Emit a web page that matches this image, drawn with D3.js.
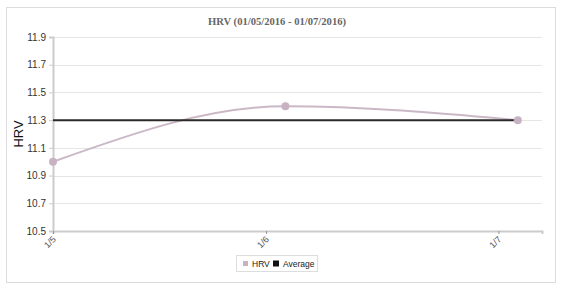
<!DOCTYPE html>
<html>
<head>
<meta charset="utf-8">
<script src="https://cdn.jsdelivr.net/npm/d3@7"></script>
<style>
  body { margin: 0; background: #fff; }
  svg text { font-family: "Liberation Sans", Arial, sans-serif; }
</style>
</head>
<body>
<div id="chart"></div>
<script>
(function(d3) {

  // Data.
  var dates = ['2016-01-05T02:00', '2016-01-06T02:00', '2016-01-07T02:00'];
  var hrvValues = [11.0, 11.4, 11.3];
  var avgValue = 11.3;
  var tickDates = ['2016-01-05T02:00', '2016-01-06T00:00', '2016-01-07T00:00'];
  var tickLabels = ['1/5', '1/6', '1/7'];
  var yTicks = [10.5, 10.7, 10.9, 11.1, 11.3, 11.5, 11.7, 11.9];

  var parse = d3.timeParse('%Y-%m-%dT%H:%M');
  var points = dates.map(function(d, i) { return { date: parse(d), value: hrvValues[i] }; });
  var ticks = tickDates.map(parse);

  var width = 562, height = 288;
  var m = { left: 53, right: 20, top: 37, bottom: 57 };

  var svg = d3.select('#chart').append('svg')
    .attr('width', width)
    .attr('height', height);

  // Outer frame.
  svg.append('rect')
    .attr('x', 6.5).attr('y', 7.5)
    .attr('width', 549).attr('height', 275)
    .attr('fill', '#fff')
    .attr('stroke', '#dcdcdc');

  var x = d3.scaleTime()
    .domain([points[0].date, d3.timeMinute.offset(points[2].date, 150)])
    .range([m.left, width - m.right]);

  var y = d3.scaleLinear()
    .domain([10.5, 11.9])
    .range([height - m.bottom, m.top]);

  // Grid.
  svg.append('g').selectAll('line')
    .data(yTicks.slice(1))
    .join('line')
    .attr('x1', m.left).attr('x2', width - m.right)
    .attr('y1', function(d) { return Math.round(y(d)) + 0.5; })
    .attr('y2', function(d) { return Math.round(y(d)) + 0.5; })
    .attr('stroke', '#e6e6e6');

  // Y axis.
  var yAxis = svg.append('g')
    .attr('transform', 'translate(' + m.left + ',0)')
    .call(d3.axisLeft(y).tickValues(yTicks).tickSize(4).tickFormat(d3.format('.1f')));
  yAxis.select('.domain').attr('stroke', '#ccc').attr('stroke-width', 2);
  yAxis.selectAll('.tick line').attr('stroke', '#ccc');
  yAxis.selectAll('text').attr('font-size', 10).attr('fill', '#333').attr('x', -7);

  // X axis.
  var xAxis = svg.append('g')
    .attr('transform', 'translate(0,' + (height - m.bottom) + ')')
    .call(d3.axisBottom(x).tickValues(ticks).tickSize(3)
      .tickFormat(function(d, i) { return tickLabels[i]; }));
  xAxis.select('.domain').attr('stroke', '#ccc').attr('stroke-width', 2);
  xAxis.selectAll('.tick line').attr('stroke', '#999');
  xAxis.selectAll('text')
    .attr('font-size', 9)
    .attr('fill', '#555')
    .attr('text-anchor', 'end')
    .attr('dy', 0)
    .attr('y', 0)
    .attr('transform', 'translate(3,9) rotate(-45)');

  // HRV line.
  var line = d3.line()
    .x(function(d) { return x(d.date); })
    .y(function(d) { return y(d.value); })
    .curve(d3.curveMonotoneX);

  svg.append('path')
    .attr('d', line(points))
    .attr('fill', 'none')
    .attr('stroke', '#cbb8c7')
    .attr('stroke-width', 2);

  // Average line.
  svg.append('line')
    .attr('x1', x(points[0].date)).attr('x2', x(points[points.length - 1].date))
    .attr('y1', y(avgValue)).attr('y2', y(avgValue))
    .attr('stroke', '#2a2a2a')
    .attr('stroke-width', 2);

  svg.append('g').selectAll('circle')
    .data(points)
    .join('circle')
    .attr('cx', function(d) { return x(d.date); })
    .attr('cy', function(d) { return y(d.value); })
    .attr('r', 4)
    .attr('fill', '#c7b2c3');

  // Title.
  svg.append('text')
    .attr('x', 277).attr('y', 25)
    .attr('text-anchor', 'middle')
    .attr('font-size', 10.6)
    .attr('font-weight', 'bold')
    .attr('fill', '#666')
    .style('font-family', '"Liberation Serif", "Times New Roman", serif')
    .text('HRV (01/05/2016 - 01/07/2016)');

  // Y label.
  svg.append('text')
    .attr('transform', 'translate(23,' + (m.top + (height - m.bottom - m.top) / 2) + ') rotate(-90)')
    .attr('text-anchor', 'middle')
    .attr('font-size', 13)
    .attr('fill', '#111')
    .text('HRV');

  // Legend.
  var lg = svg.append('g').attr('transform', 'translate(236,255)');
  lg.append('rect')
    .attr('x', 0.5).attr('y', 0.5)
    .attr('width', 81).attr('height', 16)
    .attr('fill', '#fff').attr('stroke', '#ddd');
  lg.append('rect').attr('x', 7).attr('y', 6).attr('width', 5).attr('height', 5).attr('fill', '#c7b2c3');
  lg.append('text').attr('x', 16).attr('y', 11.5).attr('font-size', 8.5).attr('fill', '#222').text('HRV');
  lg.append('rect').attr('x', 37).attr('y', 5.5).attr('width', 6).attr('height', 6).attr('fill', '#111');
  lg.append('text').attr('x', 47).attr('y', 11.5).attr('font-size', 8.5).attr('fill', '#222').text('Average');

})(d3);
</script>
</body>
</html>
